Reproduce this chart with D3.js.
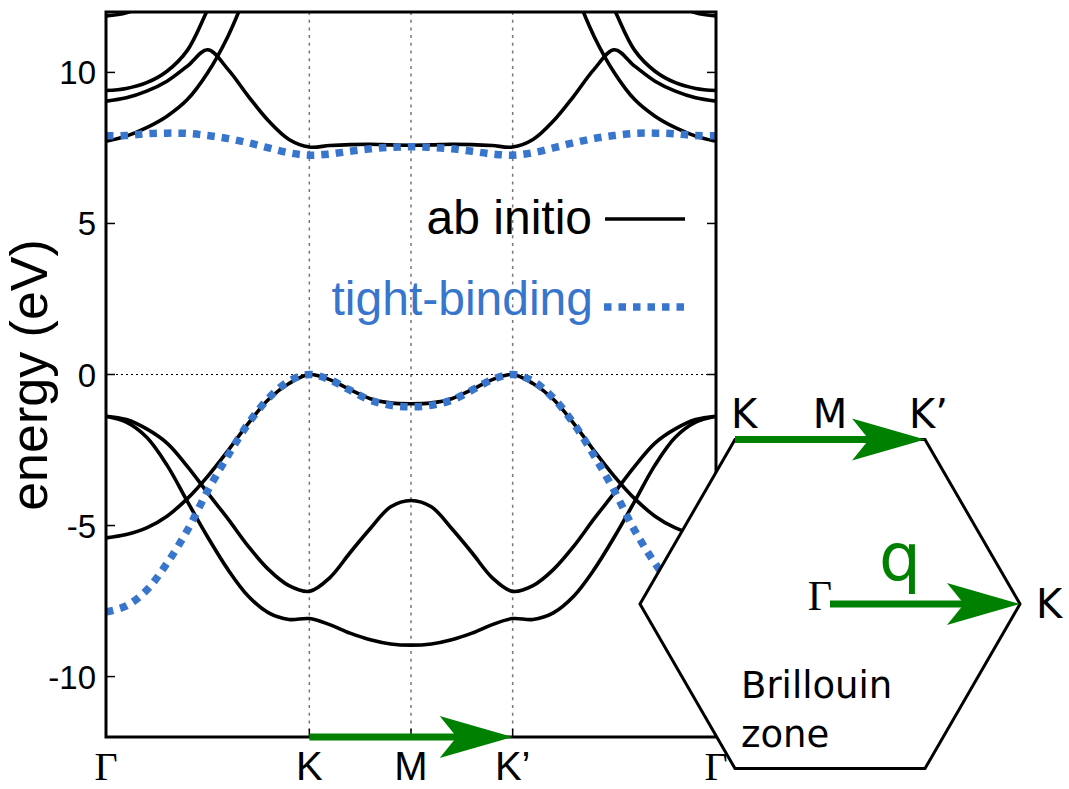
<!DOCTYPE html>
<html>
<head>
<meta charset="utf-8">
<script src="https://cdn.jsdelivr.net/npm/d3@7"></script>
<style>
  body { margin: 0; background: #fff; }
  svg { display: block; }
</style>
</head>
<body>
<script>
// k path Γ-K-M-K'-Γ, in units of |ΓK|
const kGrid = [0, 0.1, 0.2, 0.3, 0.4, 0.5, 0.6, 0.7, 0.8, 0.9, 1.0,
               1.1, 1.2, 1.3, 1.4, 1.5, 1.6, 1.7, 1.8, 1.9, 2.0,
               2.1, 2.2, 2.3, 2.4, 2.5, 2.6, 2.7, 2.8, 2.9, 3.0];
const kTicks = [0, 1, 1.5, 2, 3];
const kLabels = ["Γ", "K", "M", "K’", "Γ"];
const yTicks = [-10, -5, 0, 5, 10];

// ab initio bands (eV), null = off the chart
const abBandA = [7.72, 7.89, 8.17, 8.55, 9.10, 9.99, 11.2, 12.8, null, null, null,
                 null, null, null, null, null, null, null, null, null, null,
                 null, null, 12.8, 11.2, 9.99, 9.10, 8.55, 8.17, 7.89, 7.72];
const abBandB = [9.05, 9.16, 9.38, 9.71, 10.21, 10.75, 10.10, 9.21, 8.39, 7.78, 7.53,
                 7.58, 7.61, 7.62, 7.60, 7.59, 7.60, 7.62, 7.61, 7.58, 7.53,
                 7.78, 8.39, 9.21, 10.10, 10.75, 10.21, 9.71, 9.38, 9.16, 9.05];
const abBandC = [9.40, 9.47, 9.66, 10.04, 10.73, 12.08, 13.5, null, null, null, null,
                 null, null, null, null, null, null, null, null, null, null,
                 null, null, null, 13.5, 12.08, 10.73, 10.04, 9.66, 9.47, 9.40];
const abBandD = [11.87, 11.97, 12.3, 12.8, null, null, null, null, null, null, null,
                 null, null, null, null, null, null, null, null, null, null,
                 null, null, null, null, null, null, 12.8, 12.3, 11.97, 11.87];
const abValTop = [-5.41, -5.30, -5.08, -4.69, -4.11, -3.37, -2.52, -1.62, -0.82, -0.30, 0,
                  -0.17, -0.50, -0.80, -0.94, -0.97, -0.94, -0.80, -0.50, -0.17, 0,
                  -0.30, -0.82, -1.62, -2.52, -3.37, -4.11, -4.69, -5.08, -5.30, -5.41];
const abValMid = [-1.38, -1.49, -1.80, -2.27, -3.04, -3.92, -4.78, -5.69, -6.46, -6.99, -7.18,
                  -6.73, -5.90, -5.10, -4.38, -4.17, -4.38, -5.10, -5.90, -6.73, -7.18,
                  -6.99, -6.46, -5.69, -4.78, -3.92, -3.04, -2.27, -1.80, -1.49, -1.38];
const abValLow = [-1.38, -1.58, -2.08, -3.00, -4.20, -5.38, -6.46, -7.34, -7.89, -8.11, -8.08,
                  -8.28, -8.56, -8.78, -8.92, -8.96, -8.92, -8.78, -8.56, -8.28, -8.08,
                  -8.11, -7.89, -7.34, -6.46, -5.38, -4.20, -3.00, -2.08, -1.58, -1.38];

// tight-binding bands (eV)
const tbCond = [7.90, 7.91, 7.97, 7.99, 7.98, 7.91, 7.81, 7.67, 7.50, 7.34, 7.26,
                7.30, 7.39, 7.47, 7.52, 7.54, 7.52, 7.47, 7.39, 7.30, 7.26,
                7.34, 7.50, 7.67, 7.81, 7.91, 7.98, 7.99, 7.97, 7.91, 7.90];
const tbVal = [-7.86, -7.66, -7.14, -6.25, -5.16, -3.85, -2.68, -1.62, -0.78, -0.22, 0,
               -0.17, -0.52, -0.85, -1.02, -1.07, -1.02, -0.85, -0.52, -0.17, 0,
               -0.22, -0.78, -1.62, -2.68, -3.85, -5.16, -6.25, -7.14, -7.66, -7.86];

const abBands = [abBandA, abBandB, abBandC, abBandD, abValTop, abValMid, abValLow];
const tbBands = [tbCond, tbVal];

const width = 1069, height = 789;
const plot = {left: 106, right: 716, top: 12, bottom: 737};
const blue = "#3875cc", green = "#008000";
const sans = "'Liberation Sans', Arial, Helvetica, sans-serif";

const svg = d3.select("body").append("svg")
  .attr("width", width)
  .attr("height", height);

const x = d3.scaleLinear().domain([0, 3]).range([plot.left, plot.right]);
const y = d3.scaleLinear().domain([-12, 12]).range([plot.bottom, plot.top]);

svg.append("clipPath").attr("id", "plotclip")
  .append("rect")
  .attr("x", plot.left).attr("y", plot.top)
  .attr("width", plot.right - plot.left).attr("height", plot.bottom - plot.top);

// grid: dotted verticals at K, M, K' and zero line
svg.selectAll(".vgrid")
  .data(kTicks.slice(1, 4))
  .enter().append("line")
  .attr("x1", d => x(d)).attr("x2", d => x(d))
  .attr("y1", plot.top).attr("y2", plot.bottom)
  .attr("stroke", "#777").attr("stroke-width", 1.5)
  .attr("stroke-dasharray", "3,4.7");

svg.append("line")
  .attr("x1", plot.left).attr("x2", plot.right)
  .attr("y1", y(0)).attr("y2", y(0))
  .attr("stroke", "#000").attr("stroke-width", 1.2)
  .attr("stroke-dasharray", "2,3");

const line = d3.line()
  .defined(d => d[1] !== null)
  .x(d => x(d[0]))
  .y(d => y(d[1]))
  .curve(d3.curveCatmullRom.alpha(0.5));

const bandsG = svg.append("g").attr("clip-path", "url(#plotclip)");

bandsG.selectAll(".ab")
  .data(abBands)
  .enter().append("path")
  .attr("d", b => line(b.map((v, i) => [kGrid[i], v])))
  .attr("fill", "none")
  .attr("stroke", "#000")
  .attr("stroke-width", 3.6);

bandsG.selectAll(".tb")
  .data(tbBands)
  .enter().append("path")
  .attr("d", b => line(b.map((v, i) => [kGrid[i], v])))
  .attr("fill", "none")
  .attr("stroke", blue)
  .attr("stroke-width", 7.5)
  .attr("stroke-dasharray", "7.5,7");

// ticks (inward, mirrored)
svg.selectAll(".ytickL")
  .data(yTicks)
  .enter().append("line")
  .attr("x1", plot.left).attr("x2", plot.left + 9)
  .attr("y1", d => y(d)).attr("y2", d => y(d))
  .attr("stroke", "#000").attr("stroke-width", 1.5);
svg.selectAll(".ytickR")
  .data(yTicks)
  .enter().append("line")
  .attr("x1", plot.right).attr("x2", plot.right - 9)
  .attr("y1", d => y(d)).attr("y2", d => y(d))
  .attr("stroke", "#000").attr("stroke-width", 1.5);
svg.selectAll(".xtickB")
  .data(kTicks.slice(1, 4))
  .enter().append("line")
  .attr("x1", d => x(d)).attr("x2", d => x(d))
  .attr("y1", plot.bottom).attr("y2", plot.bottom - 8)
  .attr("stroke", "#000").attr("stroke-width", 1.5);

// frame
svg.append("rect")
  .attr("x", plot.left).attr("y", plot.top)
  .attr("width", plot.right - plot.left).attr("height", plot.bottom - plot.top)
  .attr("fill", "none").attr("stroke", "#000").attr("stroke-width", 3);

// tick labels
svg.selectAll(".ylab")
  .data(yTicks)
  .enter().append("text")
  .attr("x", 96)
  .attr("y", d => y(d) + 12)
  .attr("text-anchor", "end")
  .style("font-family", sans)
  .style("font-size", "33px")
  .text(d => d);

svg.selectAll(".xlab")
  .data(kTicks)
  .enter().append("text")
  .attr("x", d => x(d))
  .attr("y", 780)
  .attr("text-anchor", "middle")
  .style("font-family", (d, i) => kLabels[i] === "Γ" ? "'Liberation Serif', 'Times New Roman', serif" : sans)
  .style("font-size", "40px")
  .text((d, i) => kLabels[i]);

svg.append("text")
  .attr("transform", "translate(47,375) rotate(-90)")
  .attr("text-anchor", "middle")
  .style("font-family", sans)
  .style("font-size", "52px")
  .text("energy (eV)");

// legend
svg.append("text")
  .attr("x", 592).attr("y", 234)
  .attr("text-anchor", "end")
  .style("font-family", sans).style("font-size", "48px")
  .text("ab initio");
svg.append("line")
  .attr("x1", 605).attr("x2", 685).attr("y1", 219).attr("y2", 219)
  .attr("stroke", "#000").attr("stroke-width", 3.6);
svg.append("text")
  .attr("x", 593).attr("y", 315)
  .attr("text-anchor", "end")
  .attr("fill", blue)
  .style("font-family", sans).style("font-size", "48px")
  .text("tight-binding");
svg.append("line")
  .attr("x1", 604).attr("x2", 685).attr("y1", 307).attr("y2", 307)
  .attr("stroke", blue).attr("stroke-width", 7.5)
  .attr("stroke-dasharray", "7.5,7");

// arrow helper: shaft + notched head
function arrow(g, x0, y0, x1, y1) {
  const hl = 73, hw = 21, notch = 17;
  g.append("line")
    .attr("x1", x0).attr("y1", y0).attr("x2", x1 - hl + notch + 4).attr("y2", y1)
    .attr("stroke", green).attr("stroke-width", 7);
  g.append("path")
    .attr("d", `M${x1},${y1} L${x1 - hl},${y1 - hw} L${x1 - hl + notch},${y1} L${x1 - hl},${y1 + hw} Z`)
    .attr("fill", green);
}

// K -> K' arrow along the axis
arrow(svg, x(1), plot.bottom, x(2), plot.bottom);

// Brillouin zone inset
const hex = {cx: 830, cy: 604, r: 190};
const hexPts = [0, 1, 2, 3, 4, 5].map(i => {
  const a = Math.PI / 3 * i;
  return [hex.cx + hex.r * Math.cos(a), hex.cy - hex.r * Math.sin(a)];
});
const inset = svg.append("g");
inset.append("path")
  .attr("d", d3.line()(hexPts) + "Z")
  .attr("fill", "#fff")
  .attr("stroke", "#000")
  .attr("stroke-width", 3);

const dv = "'DejaVu Sans', Verdana, sans-serif";
arrow(inset, hexPts[2][0], hexPts[2][1], hexPts[1][0], hexPts[1][1]);
arrow(inset, hex.cx, hex.cy, hexPts[0][0], hexPts[0][1]);

const insetLabels = [
  {t: "K", x: 731, y: 428, anchor: "start", size: 40, font: dv, fill: "#000"},
  {t: "M", x: 830, y: 428, anchor: "middle", size: 40, font: dv, fill: "#000"},
  {t: "K’", x: 909, y: 428, anchor: "start", size: 40, font: dv, fill: "#000"},
  {t: "Γ", x: 820, y: 610, anchor: "middle", size: 42, font: "'Liberation Serif', serif", fill: "#000"},
  {t: "q", x: 900, y: 580, anchor: "middle", size: 66, font: dv, fill: green},
  {t: "K", x: 1036, y: 618, anchor: "start", size: 40, font: dv, fill: "#000"},
  {t: "Brillouin", x: 741, y: 698, anchor: "start", size: 37, font: dv, fill: "#000"},
  {t: "zone", x: 741, y: 747, anchor: "start", size: 37, font: dv, fill: "#000"}
];
inset.selectAll(".ilab")
  .data(insetLabels)
  .enter().append("text")
  .attr("x", d => d.x).attr("y", d => d.y)
  .attr("text-anchor", d => d.anchor)
  .attr("fill", d => d.fill)
  .style("font-family", d => d.font)
  .style("font-size", d => d.size + "px")
  .text(d => d.t);
</script>
</body>
</html>
